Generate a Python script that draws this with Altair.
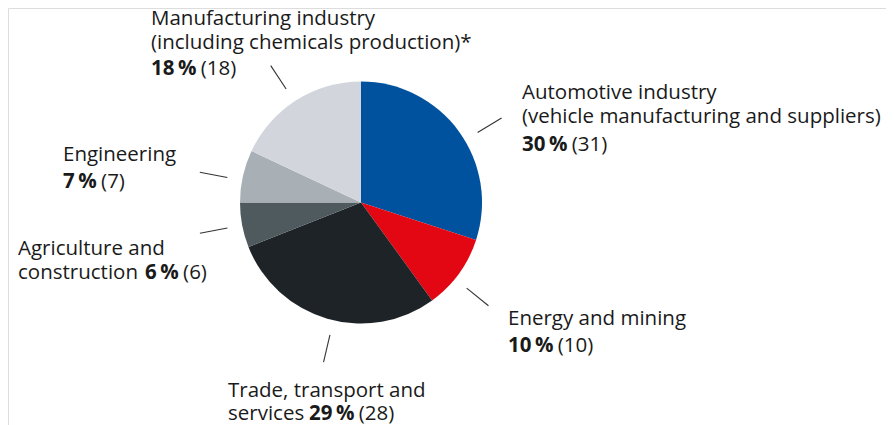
import math
import altair as alt
import pandas as pd

# ---- data ----
categories = [
    "Automotive industry (vehicle manufacturing and suppliers)",
    "Energy and mining",
    "Trade, transport and services",
    "Agriculture and construction",
    "Engineering",
    "Manufacturing industry (including chemicals production)*",
]
shares = [30, 10, 29, 6, 7, 18]
prior_year = [31, 10, 28, 6, 7, 18]
name_lines = [
    ["Automotive industry", "(vehicle manufacturing and suppliers)"],
    ["Energy and mining"],
    ["Trade, transport and", "services"],
    ["Agriculture and", "construction"],
    ["Engineering"],
    ["Manufacturing industry", "(including chemicals production)*"],
]
colors = ["#00519E", "#E30613", "#1D2326", "#4F5A5E", "#A8B0B5", "#D2D6DC"]

# ---- layout (pixels within the chart area) ----
W, H = 878, 417
CX, CY, R = 353, 194.5, 121
LEAD_R1, LEAD_R2 = 136, 164
FONT = "Open Sans"
FS = 20.5
DIGIT_W = 0.572 * FS   # bold digit advance
PCT_W = 0.875 * FS     # bold % advance
SPACE_W = 0.24 * FS
PCT_GAP = 3.5
# name x, name baselines, bold x, value baseline, leader angle offset (deg)
label_layout = [
    (514, [91, 115], 514, 143, 5),
    (500, [317], 500, 344, 3),
    (220, [389, 412], 301, 412, -3),
    (10, [247, 271], 137, 271, 0),
    (55, [153], 55, 180, -2),
    (143, [17, 41], 143, 67, -1),
]

pie_df = pd.DataFrame({
    "category": categories,
    "share": shares,
    "idx": list(range(len(categories))),
})

# leader lines near the mid-angle of each slice
total = sum(shares)
rows = []
cum = 0
for i, v in enumerate(shares):
    a = 2 * math.pi * (cum + v / 2) / total + math.radians(label_layout[i][4])
    cum += v
    rows.append({
        "x": CX + LEAD_R1 * math.sin(a), "y": CY - LEAD_R1 * math.cos(a),
        "x2": CX + LEAD_R2 * math.sin(a), "y2": CY - LEAD_R2 * math.cos(a),
    })
lead_df = pd.DataFrame(rows)

trows = []
for i in range(len(categories)):
    nx, nys, bx, vy, _ = label_layout[i]
    for line, ly in zip(name_lines[i], nys):
        trows.append({"text": line, "x": nx, "y": ly, "w": "normal"})
    num = str(shares[i])
    trows.append({"text": num, "x": bx, "y": vy, "w": "bold"})
    px = bx + len(num) * DIGIT_W + PCT_GAP
    trows.append({"text": "%", "x": px, "y": vy, "w": "bold"})
    trows.append({"text": f"({prior_year[i]})", "x": px + PCT_W + SPACE_W, "y": vy, "w": "normal"})
text_df = pd.DataFrame(trows)

xs = alt.Scale(domain=[0, W], range=[0, W])
ys = alt.Scale(domain=[0, H], range=[0, H])

pie = alt.Chart(pie_df).mark_arc(outerRadius=R, stroke=None).encode(
    theta=alt.Theta("share:Q", stack=True),
    order=alt.Order("idx:Q"),
    color=alt.Color("category:N", scale=alt.Scale(domain=categories, range=colors), legend=None),
    x=alt.value(CX),
    y=alt.value(CY),
)

leaders = alt.Chart(lead_df).mark_rule(color="#333333", strokeWidth=1.1).encode(
    x=alt.X("x:Q", scale=xs, axis=None),
    y=alt.Y("y:Q", scale=ys, axis=None),
    x2="x2:Q",
    y2="y2:Q",
)

normal = alt.Chart(text_df[text_df.w == "normal"]).mark_text(
    align="left", baseline="alphabetic", font=FONT, fontSize=FS, color="#1a1a1a"
).encode(
    x=alt.X("x:Q", scale=xs, axis=None),
    y=alt.Y("y:Q", scale=ys, axis=None),
    text="text:N",
)
bold = alt.Chart(text_df[text_df.w == "bold"]).mark_text(
    align="left", baseline="alphabetic", font=FONT, fontSize=FS, fontWeight="bold", color="#1a1a1a"
).encode(
    x=alt.X("x:Q", scale=xs, axis=None),
    y=alt.Y("y:Q", scale=ys, axis=None),
    text="text:N",
)

chart = alt.layer(pie, leaders, normal, bold).properties(
    width=W, height=H, padding=0, autosize=alt.AutoSizeParams(type="none")
).configure_view(stroke=None).configure(background="white")

chart.save("out.html", embed_options={"renderer": "svg", "actions": False})
